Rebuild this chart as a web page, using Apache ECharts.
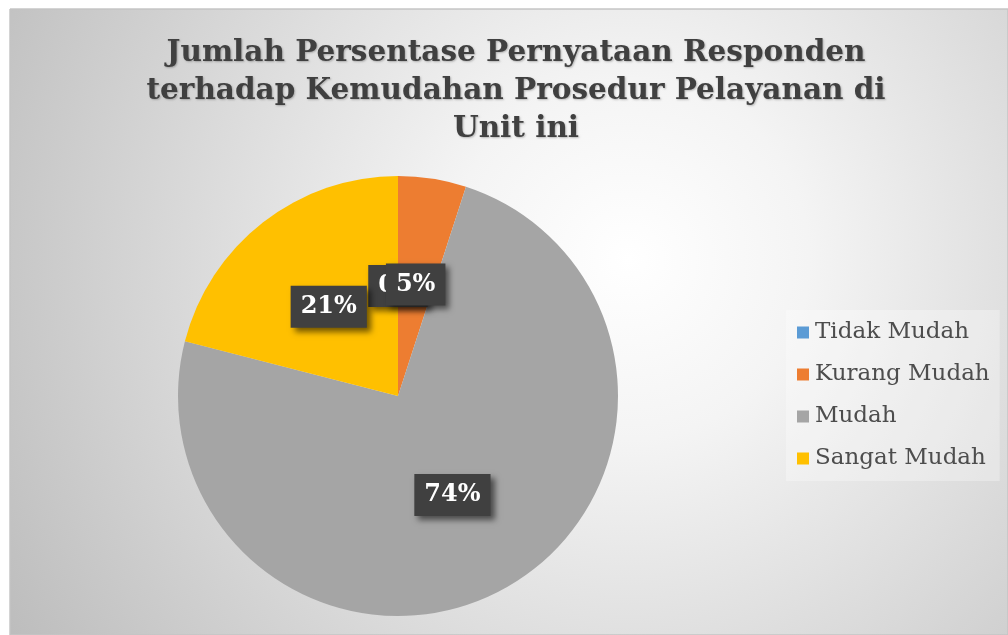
<!DOCTYPE html>
<html>
<head>
<meta charset="utf-8">
<script src="https://cdn.jsdelivr.net/npm/echarts@6/dist/echarts.min.js"></script>
<style>
  html, body { margin: 0; padding: 0; background: #fff; }
  #chart { width: 1008px; height: 635px; }
</style>
</head>
<body>
<div id="chart"></div>
<script>
// data
const titleText = 'Jumlah Persentase Pernyataan Responden\nterhadap Kemudahan Prosedur Pelayanan di\nUnit ini'
const categories = ['Tidak Mudah', 'Kurang Mudah', 'Mudah', 'Sangat Mudah']
const percents = [0, 5, 74, 21]
const colors = ['#5B9BD5', '#ED7D31', '#A5A5A5', '#FFC000']

let myChart = echarts.init(document.getElementById('chart'))

let pieData = categories.map((name, i) => ({ name: name, value: percents[i] }))

// label look shared by the pie labels and the 0% label
let labelBox = {
  fontFamily: 'DejaVu Serif',
  fontWeight: 'bold',
  fontSize: 24,
  backgroundColor: '#404040',
  padding: [9, 10, 9, 10],
  shadowColor: 'rgba(0,0,0,0.55)',
  shadowBlur: 6,
  shadowOffsetX: 4,
  shadowOffsetY: 4
}

let bgRect = {
  type: 'rect',
  id: 'bg',
  z: -10,
  shape: { x: 10, y: 9, width: 998, height: 626 },
  style: {
    fill: new echarts.graphic.RadialGradient(0.62, 0.4, 1.15, [
      { offset: 0, color: '#ffffff' },
      { offset: 0.25, color: '#f4f4f4' },
      { offset: 1, color: '#bdbdbd' }
    ]),
    stroke: '#c4c4c4',
    lineWidth: 1
  }
}

let option = {
  color: colors,
  animation: false,
  graphic: [bgRect],
  title: {
    text: titleText,
    left: 511,
    textAlign: 'center',
    top: 29,
    textStyle: {
      fontFamily: 'DejaVu Serif',
      fontWeight: 900,
      fontSize: 29.5,
      lineHeight: 38,
      color: '#404040',
      textShadowColor: 'rgba(0,0,0,0.25)',
      textShadowBlur: 2,
      textShadowOffsetX: 1,
      textShadowOffsetY: 1
    }
  },
  legend: {
    orient: 'vertical',
    left: 786,
    top: 310,
    itemWidth: 12,
    itemHeight: 12,
    itemGap: 19,
    padding: [11, 10, 11, 11],
    backgroundColor: 'rgba(255,255,255,0.3)',
    icon: 'rect',
    textStyle: {
      fontFamily: 'DejaVu Serif',
      fontSize: 23,
      color: '#4d4d4d',
      padding: [0, 0, 0, 1]
    },
    data: categories
  },
  series: [{
    name: 'Persentase',
    type: 'pie',
    center: [398, 396],
    radius: [0, 220],
    startAngle: 90,
    clockwise: true,
    avoidLabelOverlap: false,
    itemStyle: {
      borderWidth: 0
    },
    label: Object.assign({
      show: true,
      position: 'inside',
      formatter: '{c}%',
      color: '#ffffff'
    }, labelBox),
    labelLine: { show: false },
    emphasis: { disabled: true },
    data: pieData
  }]
}
myChart.setOption(option)

// echarts hides the inside label of a 0 slice, so put it back from the slice layout
let data = myChart.getModel().getSeriesByIndex(0).getData()
// slot it between the slices and the other labels (the 5% box covers it)
let zVal = 2, z2Val = 1.5
let refIdx = percents.findIndex(v => v !== 0)
let refEl = refIdx >= 0 ? data.getItemGraphicEl(refIdx) : null
if (refEl) {
  zVal = refEl.z
  let txt = refEl.getTextContent && refEl.getTextContent()
  let lo = refEl.z2 || 0
  let hi = txt ? txt.z2 : lo + 1
  z2Val = hi > lo ? (lo + hi) / 2 : lo + 0.5
}
let zeroLabels = []
percents.forEach((v, i) => {
  if (v !== 0) return
  let lay = data.getItemLayout(i)
  if (!lay) return
  let mid = (lay.startAngle + lay.endAngle) / 2
  let rr = ((lay.r0 || 0) + lay.r) / 2
  zeroLabels.push({
    type: 'text',
    id: 'zero' + i,
    z: zVal,
    z2: z2Val,
    x: lay.cx + rr * Math.cos(mid),
    y: lay.cy + rr * Math.sin(mid),
    style: Object.assign({}, labelBox, {
      text: v + '%',
      fill: '#ffffff',
      align: 'center',
      verticalAlign: 'middle'
    })
  })
})
myChart.setOption({ graphic: [bgRect].concat(zeroLabels) })
</script>
</body>
</html>
